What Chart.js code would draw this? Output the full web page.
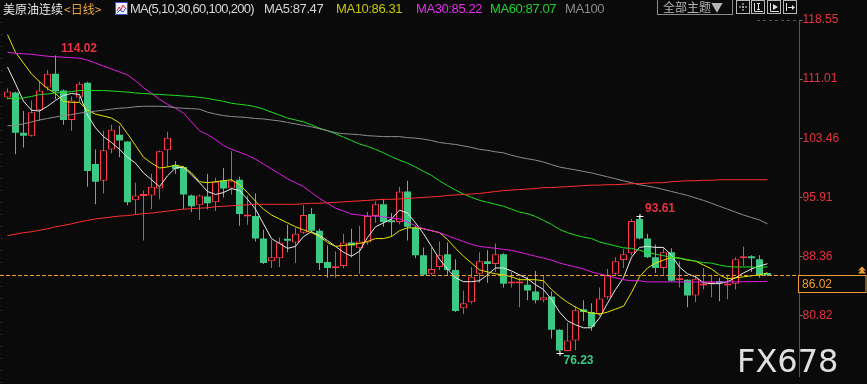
<!DOCTYPE html>
<html><head><meta charset="utf-8">
<script src="https://cdn.jsdelivr.net/npm/chart.js@4.4.1/dist/chart.umd.min.js"></script>
<style>
html,body{margin:0;padding:0;background:#0a0a0a;}
#wrap{position:relative;width:867px;height:384px;overflow:hidden;background:#0a0a0a;}
canvas{position:absolute;left:0;top:0;}
.t{position:absolute;top:1px;height:16px;line-height:16px;font-size:13px;white-space:nowrap;font-family:"Liberation Sans",Arial,sans-serif;letter-spacing:-0.4px;}
.cjk{font-family:"Noto Sans CJK SC",sans-serif;letter-spacing:0;font-size:12px;}
#btn{position:absolute;left:657px;top:-1px;width:69px;height:14px;border:1px solid #8c8c8c;color:#b4b4b4;font-family:"Noto Sans CJK SC",sans-serif;font-size:12px;line-height:14px;padding-left:5px;box-sizing:content-box;white-space:nowrap;overflow:hidden;}
</style></head><body>
<div id="wrap">
<canvas id="c" width="867" height="384"></canvas>
<div class="t cjk" style="left:3px;color:#e6e6e6">美原油连续</div>
<div class="t cjk" style="left:64px;color:#e9a53c">&lt;日线&gt;</div>
<svg style="position:absolute;left:115px;top:2px" width="13" height="13"><rect x="0.5" y="0.5" width="12" height="12" fill="#eef0ff" stroke="#3a54c8"/><polyline points="2,9 4,5 6,8 8,3 11,7" fill="none" stroke="#e03030" stroke-width="1"/><polyline points="2,11 5,8 8,10 11,6" fill="none" stroke="#3050d0" stroke-width="1"/></svg>
<div class="t" style="left:130px;color:#d6d6d6;letter-spacing:-0.75px">MA(5,10,30,60,100,200)</div>
<div class="t" id="lma5" style="left:264px;color:#d6d6d6"></div>
<div class="t" id="lma10" style="left:336px;color:#c8c800"></div>
<div class="t" id="lma30" style="left:416px;color:#e030e8"></div>
<div class="t" id="lma60" style="left:490px;color:#20d030"></div>
<div class="t" style="left:565px;color:#8a8a8a">MA100</div>
<div id="btn">全部主题▼</div>
<svg style="position:absolute;left:736px;top:0px" width="62" height="16">
 <g fill="none" stroke="#b8b8b8" stroke-width="1">
  <rect x="0.5" y="0.5" width="13" height="13"/>
  <rect x="15.5" y="0.5" width="13" height="13"/>
  <rect x="31.5" y="0.5" width="13" height="13"/>
  <rect x="47.5" y="0.5" width="13" height="13"/>
 </g>
 <g stroke="#e0e0e0" stroke-width="1" fill="none">
  <line x1="7" y1="3" x2="7" y2="11" stroke-dasharray="2,1"/><line x1="3" y1="7" x2="11" y2="7" stroke-dasharray="2,1"/>
  <polyline points="18.5,3 18.5,11.5 27,11.5"/><line x1="22.5" y1="3.5" x2="22.5" y2="9.5"/><line x1="21" y1="3.5" x2="24" y2="3.5"/><line x1="21" y1="9.5" x2="24" y2="9.5"/>
  <polyline points="34.5,3 34.5,11.5 43,11.5"/>
  <line x1="50.5" y1="3" x2="50.5" y2="11"/><line x1="52" y1="7.5" x2="58" y2="7.5"/>
 </g>
 <polygon points="37,4 37,10 42,7" fill="#e0e0e0"/>
 <polygon points="56,5 59,7.5 56,10" fill="#e0e0e0"/>
</svg>
</div>
<script>
// ---- data ----
const opens = [108.68,109.30,104.18,103.80,107.05,109.93,111.68,109.55,105.80,108.68,
110.55,100.18,98.05,102.05,103.93,103.05,95.55,96.10,96.18,97.05,
101.93,100.05,99.80,96.18,94.93,96.05,95.30,98.05,97.05,98.18,
93.50,93.55,90.68,87.80,88.18,90.50,90.18,91.43,93.80,91.68,
87.68,86.90,87.18,90.18,89.43,90.18,93.55,95.05,92.85,92.80,
96.68,92.05,88.55,86.18,87.05,88.68,86.68,81.80,82.55,86.18,
87.80,87.43,88.68,84.95,84.95,84.80,83.93,82.80,83.30,79.05,
76.35,77.68,81.68,81.30,81.05,83.18,86.18,87.93,88.80,93.18,
90.68,88.30,86.93,88.93,85.35,85.43,83.43,84.68,84.85,85.10,
84.68,84.93,88.18,88.30,88.05,86.18];
const highs = [109.80,109.40,106.93,108.30,110.80,112.18,114.02,109.70,108.80,110.68,
110.68,102.05,104.43,105.18,105.05,103.10,97.80,96.80,98.93,101.90,
104.30,100.55,99.90,96.30,96.30,98.93,98.43,99.68,101.80,98.55,
96.18,96.43,91.80,90.55,90.80,92.43,92.05,94.93,94.55,91.93,
89.80,89.05,91.30,91.93,92.30,94.05,95.43,95.68,93.93,97.30,
98.05,92.30,89.55,89.55,90.30,90.18,88.05,84.05,87.05,88.93,
89.18,90.05,88.80,86.43,85.68,85.80,86.55,85.93,83.93,79.10,
79.93,82.05,82.80,82.43,84.43,86.80,88.30,89.30,93.18,93.61,
91.30,89.93,89.55,89.43,87.80,85.50,86.05,86.93,86.05,85.68,
86.05,88.30,89.68,88.55,88.55,86.30];
const lows = [108.43,101.43,102.30,103.68,105.68,109.55,108.43,105.18,104.43,108.05,
97.30,95.05,96.43,101.55,101.05,94.93,93.68,90.43,94.43,95.68,
99.80,98.93,94.43,94.05,93.05,94.43,94.18,95.93,96.30,92.30,
92.43,90.30,87.43,86.93,87.05,88.93,87.55,91.30,91.43,86.68,
85.68,85.68,86.90,88.30,86.18,89.90,92.68,92.18,90.93,92.50,
90.43,88.18,86.00,86.05,86.68,86.05,81.30,81.05,82.40,85.05,
85.05,86.43,84.43,84.43,81.93,82.80,82.43,82.55,77.93,76.23,
76.30,76.43,80.18,78.93,80.80,82.93,86.05,86.93,88.55,90.60,
88.20,86.30,86.05,85.20,84.43,81.93,82.55,84.18,83.18,82.68,
82.93,84.18,87.18,86.43,85.68,85.90];
const closes = [109.43,104.18,103.80,106.80,109.55,111.68,109.43,105.80,108.30,110.43,
99.30,97.93,101.93,104.55,103.18,95.30,96.18,96.18,97.30,101.80,
103.55,99.55,96.30,94.80,96.18,95.18,97.93,97.05,98.05,93.80,
93.60,90.68,87.55,88.30,90.18,90.40,91.30,93.68,91.68,87.55,
86.93,87.00,90.18,89.80,90.30,93.55,95.05,92.80,92.75,96.68,
92.18,88.55,86.05,86.80,88.55,86.68,81.43,82.43,85.80,87.80,
87.43,88.68,84.93,85.05,85.05,84.05,82.80,83.18,79.05,76.40,
77.68,81.55,81.30,79.43,83.05,86.05,87.80,88.68,92.93,90.68,
88.30,86.93,88.93,85.30,85.45,83.43,85.55,84.80,84.95,85.00,
84.93,88.05,88.30,88.18,85.93,86.02];
const ma5 = [112.55,110.43,108.18,107.05,106.93,107.55,108.30,108.93,109.18,109.05,
106.43,104.80,103.68,102.93,102.05,101.05,100.30,99.05,98.18,97.30,
98.68,99.68,99.80,98.80,97.80,96.68,96.30,96.55,97.05,96.80,
95.68,94.43,92.55,90.68,90.05,89.43,89.68,90.93,91.55,91.05,
90.43,89.68,88.93,88.43,89.05,90.80,92.18,92.68,93.18,94.30,
93.93,92.68,91.30,89.68,88.05,86.80,85.68,85.18,85.18,85.30,
86.05,86.93,86.93,86.55,86.05,85.55,84.80,84.18,82.93,81.30,
80.18,79.68,79.30,79.30,80.55,82.43,84.18,85.68,88.30,89.55,
89.68,89.55,89.55,88.55,87.05,86.18,85.80,85.05,84.93,84.93,
85.18,85.68,86.30,86.80,87.18,87.47];
const ma10 = [116.68,114.43,113.05,111.68,110.68,109.80,109.18,108.18,108.05,108.05,
107.05,106.55,106.30,106.05,105.43,104.05,102.55,101.05,100.30,99.68,
99.80,100.05,99.80,99.05,97.93,97.80,97.93,98.05,98.18,97.55,
96.55,95.43,94.43,93.68,93.18,92.68,92.18,91.80,91.43,90.93,
90.18,89.68,89.80,89.93,90.05,90.30,90.68,90.68,90.93,91.68,
92.05,92.05,91.93,91.68,91.43,90.55,89.43,88.43,87.55,86.68,
86.43,86.18,86.05,85.80,85.43,85.43,85.43,85.30,84.18,83.30,
82.55,81.93,81.43,81.18,81.05,81.30,81.68,82.05,83.80,85.80,
86.93,87.55,87.93,88.30,88.18,87.93,87.80,87.30,86.80,86.05,
85.55,85.68,85.80,85.93,86.05,86.31];
const ma30 = [114.43,114.30,114.24,114.18,114.05,113.93,113.86,113.80,113.74,113.68,
113.43,113.05,112.68,112.30,111.93,111.55,110.80,109.93,109.18,108.43,
107.80,107.30,106.68,105.55,104.43,103.93,103.30,102.55,102.05,101.68,
101.30,100.80,100.18,99.55,98.93,98.30,97.80,97.30,96.55,95.80,
95.18,94.55,94.18,93.80,93.68,93.55,93.55,93.43,93.30,93.18,
92.80,92.30,91.93,91.68,91.43,91.05,90.68,90.30,89.93,89.68,
89.55,89.43,89.30,89.18,88.93,88.68,88.43,88.18,87.93,87.55,
87.30,87.05,86.80,86.43,86.18,85.93,85.68,85.43,85.30,85.30,
85.15,85.15,85.15,85.15,85.15,85.15,85.15,85.15,85.15,85.15,
85.15,85.15,85.18,85.18,85.20,85.22];
const ma60 = [108.55,108.55,108.61,108.80,109.05,109.11,109.24,109.30,109.43,109.55,
109.55,109.55,109.55,109.49,109.43,109.36,109.24,109.18,109.11,109.05,
108.99,108.93,108.86,108.80,108.68,108.55,108.36,108.18,107.93,107.80,
107.68,107.49,107.18,106.80,106.43,106.05,105.80,105.55,105.18,104.74,
104.43,104.05,103.61,103.18,102.74,102.43,102.05,101.61,101.11,100.68,
100.30,99.80,99.24,98.74,98.05,97.43,96.86,96.36,95.93,95.55,
95.30,95.05,94.80,94.43,94.05,93.86,93.49,92.99,92.49,91.86,
91.43,91.11,90.86,90.68,90.24,89.99,89.74,89.49,89.43,89.18,
88.93,88.68,88.49,88.30,88.18,87.99,87.80,87.61,87.55,87.30,
87.11,87.05,87.05,87.05,86.99,87.07];
const ma100 = [105.05,105.11,105.30,105.55,105.80,105.99,106.18,106.36,106.49,106.68,
106.80,106.93,107.05,107.18,107.30,107.36,107.49,107.55,107.55,107.55,
107.49,107.36,107.30,107.24,107.18,106.80,106.55,106.36,106.24,106.18,
106.11,105.99,105.93,105.80,105.68,105.49,105.30,105.11,104.93,104.68,
104.43,104.18,104.05,103.99,103.93,103.80,103.74,103.68,103.68,103.68,
103.55,103.49,103.36,103.18,102.93,102.80,102.68,102.49,102.30,102.05,
101.93,101.74,101.61,101.30,101.05,100.86,100.68,100.43,100.11,99.80,
99.61,99.43,99.24,99.05,98.80,98.55,98.30,98.05,97.80,97.55,
97.36,97.18,96.93,96.68,96.43,96.18,95.86,95.55,95.18,94.80,
94.43,94.05,93.68,93.36,93.05,92.55];
const ma200 = [91.05,91.24,91.43,91.55,91.74,91.93,92.18,92.36,92.55,92.80,
92.99,93.18,93.30,93.43,93.55,93.61,93.74,93.86,93.93,94.05,
94.18,94.30,94.43,94.49,94.55,94.61,94.74,94.80,94.86,94.93,
94.99,95.05,95.05,95.05,95.05,95.05,95.05,95.11,95.18,95.18,
95.24,95.30,95.36,95.43,95.49,95.55,95.61,95.68,95.68,95.74,
95.80,95.86,95.93,95.99,96.05,96.18,96.24,96.30,96.36,96.43,
96.55,96.68,96.80,96.86,96.93,96.99,97.05,97.18,97.18,97.24,
97.30,97.36,97.43,97.49,97.49,97.55,97.55,97.61,97.68,97.68,
97.74,97.80,97.80,97.93,97.99,98.05,98.05,98.11,98.11,98.18,
98.18,98.18,98.18,98.18,98.18,98.18];
const yTickLabels = ['118.55','111.01','103.46','95.91','88.36','80.82'];
const highMarks = [6, 79];   // candles whose high is labelled
const lowMarks = [69];       // candle whose low is labelled

// ---- styling ----
const BG = '#0a0a0a', RED = '#ff3a4c', GREEN = '#3cc985', AXIS_RED = '#e8323f', ORANGE = '#f0a030';
const idx = closes.map((_, i) => i);
const isUp = i => closes[i] >= opens[i];

document.getElementById('lma5').textContent = 'MA5:' + ma5[ma5.length-1].toFixed(2);
document.getElementById('lma10').textContent = 'MA10:' + ma10[ma10.length-1].toFixed(2);
document.getElementById('lma30').textContent = 'MA30:' + ma30[ma30.length-1].toFixed(2);
document.getElementById('lma60').textContent = 'MA60:' + ma60[ma60.length-1].toFixed(2);

const lineDs = (arr, color) => ({
  type: 'line', data: idx.map(i => ({x: i, y: arr[i]})), borderColor: color,
  borderWidth: 1, pointRadius: 0, tension: 0, fill: false, order: 1
});

const overlay = {
  id: 'overlay',
  afterDatasetsDraw(chart) {
    const {ctx, scales: {x, y}} = chart;
    ctx.save();
    ctx.strokeStyle = '#4a4a4a'; ctx.lineWidth = 1; ctx.setLineDash([1, 11]);
    ctx.beginPath(); ctx.moveTo(1.5, 22); ctx.lineTo(1.5, 384); ctx.stroke();
    ctx.strokeStyle = '#555'; ctx.setLineDash([3, 3]);
    ctx.beginPath(); ctx.moveTo(757, 20.5); ctx.lineTo(799, 20.5); ctx.stroke();
    const last = closes[closes.length - 1];
    const py = Math.round(y.getPixelForValue(last)) + 0.5;
    ctx.strokeStyle = ORANGE; ctx.setLineDash([4, 2]);
    ctx.beginPath(); ctx.moveTo(0, py); ctx.lineTo(799, py); ctx.stroke();
    ctx.setLineDash([]);
    ctx.font = 'bold 12px "Liberation Sans", Arial, sans-serif';
    ctx.textBaseline = 'middle'; ctx.textAlign = 'left';
    highMarks.forEach((i, k) => {
      const px = x.getPixelForValue(i), hy = y.getPixelForValue(highs[i]);
      ctx.fillStyle = AXIS_RED;
      ctx.fillText(highs[i].toFixed(2), px + 5.5, hy - 6.5);
      if (k > 0) {
        ctx.strokeStyle = '#ffffff';
        ctx.beginPath(); ctx.moveTo(px - 3, Math.round(hy) + 0.5); ctx.lineTo(px + 4, Math.round(hy) + 0.5);
        ctx.moveTo(px + 0.5, Math.round(hy) - 2); ctx.lineTo(px + 0.5, Math.round(hy) + 3); ctx.stroke();
      }
    });
    lowMarks.forEach(i => {
      const px = x.getPixelForValue(i), ly = y.getPixelForValue(lows[i]);
      ctx.fillStyle = GREEN;
      ctx.fillText(lows[i].toFixed(2), px + 4, ly + 9);
      ctx.strokeStyle = '#ffffff';
      ctx.beginPath(); ctx.moveTo(px - 3, Math.round(ly) + 1.5); ctx.lineTo(px + 4, Math.round(ly) + 1.5);
      ctx.moveTo(px + 0.5, Math.round(ly) - 1); ctx.lineTo(px + 0.5, Math.round(ly) + 4); ctx.stroke();
    });
    ctx.restore();
  },
  afterDraw(chart) {
    const {ctx, scales: {y}} = chart;
    ctx.save();
    const last = closes[closes.length - 1];
    const py = Math.round(y.getPixelForValue(last)) + 0.5;
    ctx.fillStyle = BG; ctx.fillRect(799, py, 67, 17);
    ctx.strokeStyle = ORANGE; ctx.lineWidth = 1;
    ctx.strokeRect(798.5, py, 67.5, 17);
    ctx.fillStyle = ORANGE; ctx.font = '12px "Liberation Sans", Arial, sans-serif';
    ctx.textBaseline = 'middle'; ctx.textAlign = 'left';
    ctx.fillText(last.toFixed(2), 802, py + 9);
    ctx.beginPath(); ctx.moveTo(862, py - 9); ctx.lineTo(858, py - 5); ctx.lineTo(866, py - 5); ctx.closePath(); ctx.fill();
    ctx.beginPath(); ctx.moveTo(862, py - 6); ctx.lineTo(858, py - 2); ctx.lineTo(866, py - 2); ctx.closePath(); ctx.fill();
    ctx.fillStyle = 'rgba(236,236,236,0.95)';
    ctx.font = '32px "DejaVu Sans", sans-serif';
    ctx.textBaseline = 'alphabetic';
    ctx.fillText('FX678', 737, 372);
    ctx.restore();
  }
};

const upOr = (ctx, a, b, d) => (ctx.dataIndex === undefined ? d : (isUp(ctx.dataIndex) ? a : b));

new Chart(document.getElementById('c'), {
  type: 'bar',
  data: {
    datasets: [
      lineDs(ma200, '#ff3030'),
      lineDs(ma100, '#8c8c8c'),
      lineDs(ma60, '#22dd22'),
      lineDs(ma30, '#e020e0'),
      lineDs(ma10, '#e6e600'),
      lineDs(ma5, '#ececec'),
      {
        type: 'bar', data: idx.map(i => ({x: i, y: [lows[i], highs[i]]})),
        backgroundColor: c => upOr(c, RED, GREEN, RED), borderWidth: 0,
        barThickness: 1, grouped: false, inflateAmount: 0, order: 3
      },
      {
        type: 'bar', data: idx.map(i => ({x: i, y: [opens[i], closes[i]]})),
        backgroundColor: c => upOr(c, BG, GREEN, BG),
        borderColor: c => upOr(c, RED, GREEN, RED),
        borderWidth: c => upOr(c, 1, 0, 1), borderSkipped: false,
        barThickness: 7, minBarLength: 2, grouped: false, inflateAmount: 0, order: 2
      }
    ]
  },
  options: {
    responsive: false, animation: false, devicePixelRatio: 1, events: [],
    layout: {padding: {left: 3.5, top: 20, right: 0, bottom: 0}},
    plugins: {legend: {display: false}, tooltip: {enabled: false}},
    scales: {
      x: {type: 'linear', display: false, min: -0.5, max: 99, offset: false},
      y: {
        position: 'right', min: 73.05, max: 118.55,
        afterFit: s => { s.width = 67.5; },
        afterBuildTicks: s => { s.ticks = yTickLabels.map(t => ({value: parseFloat(t)})); },
        ticks: {color: AXIS_RED, padding: 0, autoSkip: false,
                font: {family: '"Liberation Sans", Arial, sans-serif', size: 12},
                callback: (v, i) => yTickLabels[i]},
        grid: {drawOnChartArea: false, drawTicks: true, tickLength: 3, tickColor: '#777'},
        border: {display: true, color: '#555', dash: [1, 9]}
      }
    }
  },
  plugins: [overlay]
});
</script>
</body></html>
